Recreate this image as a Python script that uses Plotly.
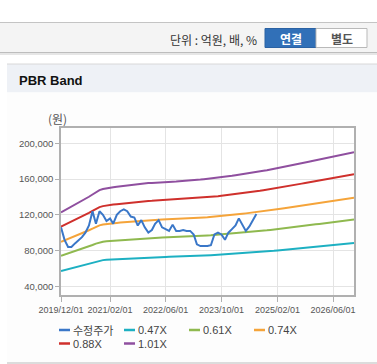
import pandas as pd
import plotly.graph_objects as go

# ---------------- data ----------------
price_start = "2019-12-01"
# 수정주가 (monthly, KRW)
price = [106000, 92000, 84000, 84000, 88000, 91000, 95000, 100000, 108000, 124000,
         110000, 124000, 120000, 113000, 116000, 110000, 120000, 124000, 126000, 124000,
         118000, 117000, 108000, 114000, 106000, 100000, 103000, 110000, 114000, 106000,
         104000, 102000, 109000, 102000, 102000, 103000, 102000, 102000, 98000, 87000,
         85000, 85000, 85000, 86000, 98000, 100000, 98000, 92000, 100000, 104000,
         108000, 116000, 109000, 102000, 107000, 114000, 121000]

# BPS (monthly, KRW) used for the PBR band lines
bps = [121400, 123500, 125700, 127800, 130000, 132000, 134200, 136500, 138800, 141300,
       143800, 146200, 147400, 148300, 148800, 149400, 149900, 150400, 150900, 151400,
       151900, 152400, 152900, 153300, 153600, 153900, 154100, 154400, 154700, 154900,
       155100, 155300, 155500, 155600, 155800, 156100, 156400, 156700, 157000, 157400,
       157800, 158200, 158600, 159000, 159500, 160000, 160500, 161000, 161500, 162000,
       162600, 163100, 163700, 164300, 164900, 165500, 166100, 166800, 167500, 168200,
       168900, 169600, 170400, 171200, 172000, 172800, 173600, 174400, 175200, 176000,
       176800, 177600, 178400, 179200, 180000, 180800, 181600, 182400, 183200, 184000,
       184800, 185600, 186400, 187200, 188000]

multiples = [0.47, 0.61, 0.74, 0.88, 1.01]
band_names = ["0.47X", "0.61X", "0.74X", "0.88X", "1.01X"]
band_colors = ["#1db0c2", "#8fb94f", "#f5a43a", "#cf302c", "#8f4f9f"]
price_name = "수정주가"
price_color = "#3a77c8"

x_tickvals = ["2019-12-01", "2021-02-01", "2022-06-01", "2023-10-01", "2025-02-01", "2026-06-01"]
x_ticktext = ["2019/12/01", "2021/02/01", "2022/06/01", "2023/10/01", "2025/02/01", "2026/06/01"]
y_tickvals = [40000, 80000, 120000, 160000, 200000]

# ---------------- figure ----------------
price_dates = pd.date_range(price_start, periods=len(price), freq="MS")
bps_dates = pd.date_range(price_start, periods=len(bps), freq="MS")

KR = "Noto Sans CJK KR"
NUM = "Liberation Sans, Noto Sans CJK KR"

fig = go.Figure()
for name, m, c in zip(band_names, multiples, band_colors):
    fig.add_trace(go.Scatter(x=bps_dates, y=[b * m for b in bps], mode="lines", name=name,
                             line=dict(color=c, width=2), showlegend=False))
fig.add_trace(go.Scatter(x=price_dates, y=price, mode="lines", name=price_name,
                         line=dict(color=price_color, width=2), showlegend=False))

L, R, T, B = 61, 354, 128, 295
W, H = R - L, B - T


def fx(x):
    return (x - L) / W


def fy(y):
    return (B - y) / H


shapes = []
annotations = []


def rect(x0, y0, x1, y1, fill, line=None, lw=0, layer="below"):
    shapes.append(dict(type="rect", xref="paper", yref="paper", x0=fx(x0), x1=fx(x1),
                       y0=fy(y1), y1=fy(y0), fillcolor=fill, layer=layer,
                       line=dict(color=line or fill, width=lw)))


def hline(x0, x1, y, color, w=1, layer="below"):
    shapes.append(dict(type="line", xref="paper", yref="paper", x0=fx(x0), x1=fx(x1),
                       y0=fy(y), y1=fy(y), layer=layer, line=dict(color=color, width=w)))


def text(x, y, s, size=12, color="#333", anchor="left", bold=False, family=KR):
    annotations.append(dict(xref="paper", yref="paper", x=fx(x), y=fy(y), text=("<b>%s</b>" % s) if bold else s,
                            showarrow=False, xanchor=anchor, yanchor="middle", borderpad=0,
                            font=dict(size=size, color=color, family=family)))


# top unit bar
rect(0, 22, 377, 53, "#f4f4f4")
hline(0, 377, 22.5, "#c4c4c4")
hline(0, 377, 52.5, "#bdbdbd")
hline(0, 377, 54, "#e6e6e6", w=2)
text(258, 39.5, "단위 : 억원, 배, %", size=12, color="#333", anchor="right")
rect(265, 28.5, 316, 47.5, "#3170b8", line="#2b62a3", lw=1)
rect(316, 28.5, 367, 47.5, "#ffffff", line="#b9b9b9", lw=1)
text(290.5, 38.5, "연결", size=12, color="#ffffff", anchor="center", bold=True)
text(341.5, 38.5, "별도", size=12, color="#555555", anchor="center", bold=True)

# section header
rect(7, 64, 377, 92.5, "#eef1f6")
hline(7, 377, 64, "#d8d8d8")
rect(7, 92.5, 377, 363, "#fdfdfd")
hline(7, 377, 363, "#d0d0d0", w=1.5)
text(18, 80.5, "PBR Band", size=13, color="#111", bold=True, family="Liberation Sans")

# plot area white
rect(L, T, R, B, "#ffffff")

# y-axis unit
text(57, 118, "(원)", size=12, color="#555", anchor="center")

# custom legend
legend_items = [(price_name, price_color)] + list(zip(band_names, band_colors))
for i, (nm, c) in enumerate(legend_items):
    row, col = divmod(i, 4)
    x0 = 59 + 65 * col
    y0 = 330 + 13.5 * row
    hline(x0, x0 + 11, y0, c, w=2.5, layer="above")
    text(x0 + 12.5, y0, nm, size=11, color="#444", family=NUM if i else KR)

fig.update_layout(
    width=377, height=364,
    margin=dict(l=L, r=377 - R, t=T, b=364 - B),
    paper_bgcolor="#ffffff", plot_bgcolor="rgba(0,0,0,0)",
    showlegend=False,
    shapes=shapes, annotations=annotations,
    font=dict(family=NUM, size=11, color="#555"),
)
fig.update_xaxes(type="date", range=["2019-12-01", "2026-12-01"],
                 tickvals=x_tickvals, ticktext=x_ticktext, tickangle=0,
                 showgrid=True, gridcolor="#e4e4e4", gridwidth=1,
                 showline=True, linecolor="#b0b0b0", linewidth=1.5, mirror=True,
                 ticks="outside", ticklen=5, tickcolor="#b0b0b0",
                 tickfont=dict(size=9, color="#555", family=NUM), zeroline=False)
fig.update_yaxes(range=[30270, 217100], tickvals=y_tickvals, tickformat=",",
                 showgrid=True, gridcolor="#e4e4e4", gridwidth=1,
                 showline=True, linecolor="#b0b0b0", linewidth=1.5, mirror=True,
                 ticks="outside", ticklen=4, tickcolor="#b0b0b0",
                 tickfont=dict(size=9.5, color="#555", family=NUM), zeroline=False)

fig.write_html("out.html", config={"displayModeBar": False},
               post_script="document.body.style.margin='0';")
